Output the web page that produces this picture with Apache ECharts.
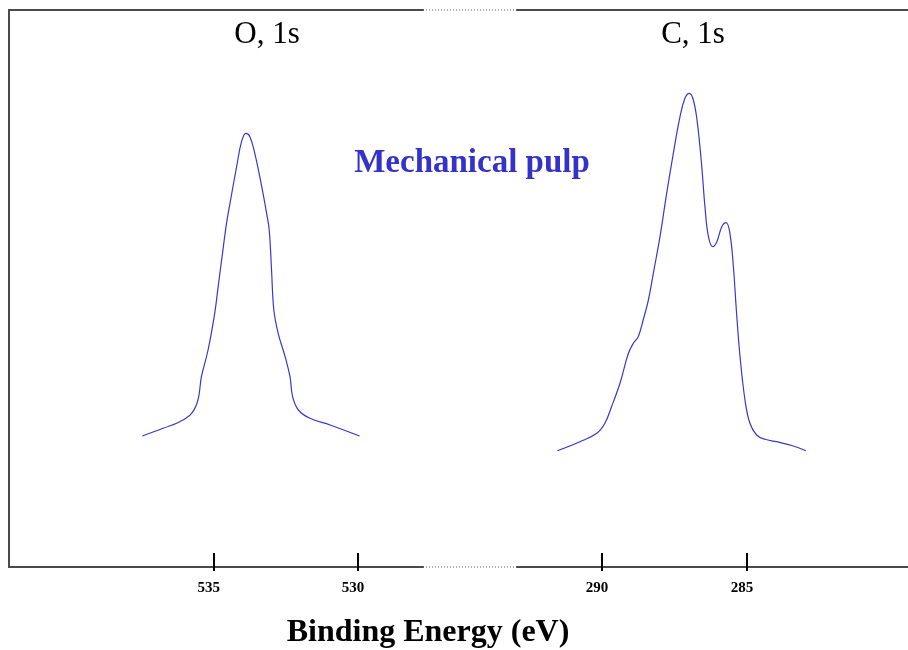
<!DOCTYPE html>
<html>
<head>
<meta charset="utf-8">
<script src="https://cdn.jsdelivr.net/npm/echarts@6/dist/echarts.min.js"></script>
<style>
  html, body { margin: 0; padding: 0; background: #fff; }
  #chart { width: 908px; height: 650px; }
</style>
</head>
<body>
<div id="chart"></div>
<script>
// O 1s spectrum: binding energy (eV) and intensity (arbitrary units)
const oEnergy = [537.48, 536.76, 536.18, 535.77, 535.55, 535.43, 535.20, 534.97, 534.85, 534.70,
                 534.56, 534.44, 534.21, 534.04, 533.89, 533.75, 533.58, 533.34, 533.17, 533.08,
                 533.00, 532.92, 532.77, 532.53, 532.36, 532.27, 532.07, 531.67, 530.97, 529.95];
const oIntensity = [131, 138.7, 145.3, 153.7, 167, 190.3, 217, 253.7, 280.3, 313.7,
                    343.7, 363.7, 400.3, 425.3, 433.7, 430.3, 413.7, 380.3, 353.7, 337,
                    297, 257, 233.7, 210.3, 190.3, 170.3, 157, 148.7, 142, 131];

// C 1s spectrum
const cEnergy = [291.54, 290.76, 290.18, 289.90, 289.67, 289.38, 289.09, 288.92, 288.75, 288.58,
                 288.40, 288.23, 288.00, 287.77, 287.54, 287.31, 287.14, 286.99, 286.85, 286.71,
                 286.56, 286.45, 286.33, 286.18, 286.04, 285.87, 285.72, 285.59, 285.47, 285.36,
                 285.24, 285.07, 284.90, 284.67, 284.38, 283.98, 283.40, 282.97];
const cIntensity = [116.3, 125.3, 133.7, 143.7, 160.3, 183.7, 213.7, 223.7, 230.3, 247,
                    267, 293.7, 330.3, 373.7, 413.7, 450.3, 468.7, 473.7, 467, 443.7,
                    400.3, 360.3, 330.3, 320.3, 325.3, 340.3, 344.3, 333.7, 300.3, 253.7,
                    210.3, 167, 143.7, 132, 127.7, 125.3, 121, 116.3];

const oTicks = [535, 530];
const cTicks = [290, 285];
const oRange = [527.75, 542.1];
const cRange = [279.45, 292.93];

const panelTitles = ['O, 1s', 'C, 1s'];
const sampleName = 'Mechanical pulp';
const axisName = 'Binding Energy (eV)';

const lineColor = '#3838cc';
const frameColor = '#4a4a4a';
const serif = '"Liberation Serif", "Times New Roman", serif';

function pair(xs, ys) { return xs.map((x, i) => [x, ys[i]]); }

function bottomAxes(gridIndex, range, ticks) {
  return [
    {
      type: 'value', gridIndex, position: 'bottom', inverse: true,
      min: range[0], max: range[1],
      axisLine: { show: true, lineStyle: { color: frameColor, width: 2 } },
      axisTick: { show: true, inside: true, length: 14, customValues: ticks,
                  lineStyle: { color: '#000', width: 2 } },
      axisLabel: { show: true, customValues: ticks, margin: 14, padding: [0, 10, 0, 0],
                   fontFamily: serif, fontWeight: 'bold', fontSize: 15, color: '#000' },
      splitLine: { show: false }
    },
    {
      type: 'value', gridIndex, position: 'bottom', inverse: true,
      min: range[0], max: range[1],
      axisLine: { show: false },
      axisTick: { show: true, inside: false, length: 4, customValues: ticks,
                  lineStyle: { color: '#000', width: 2 } },
      axisLabel: { show: false },
      splitLine: { show: false }
    },
    {
      type: 'value', gridIndex, position: 'top', inverse: true,
      min: range[0], max: range[1],
      axisLine: { show: true, lineStyle: { color: frameColor, width: 2 } },
      axisTick: { show: false }, axisLabel: { show: false }, splitLine: { show: false }
    }
  ];
}

const chart = echarts.init(document.getElementById('chart'), null, { renderer: 'canvas' });

chart.setOption({
  animation: false,
  backgroundColor: '#fff',
  grid: [
    { left: 9, top: 10, width: 414, bottom: 83 },
    { left: 517, top: 10, right: 0, bottom: 83 }
  ],
  xAxis: [].concat(bottomAxes(0, oRange, oTicks), bottomAxes(1, cRange, cTicks)),
  yAxis: [
    { type: 'value', gridIndex: 0, min: 0, max: 557,
      axisLine: { show: true, lineStyle: { color: frameColor, width: 2 } },
      axisTick: { show: false }, axisLabel: { show: false }, splitLine: { show: false } },
    { type: 'value', gridIndex: 1, min: 0, max: 557,
      axisLine: { show: false }, axisTick: { show: false },
      axisLabel: { show: false }, splitLine: { show: false } }
  ],
  series: [
    { type: 'line', xAxisIndex: 0, yAxisIndex: 0, data: pair(oEnergy, oIntensity),
      smooth: 0.4, showSymbol: false,
      lineStyle: { color: lineColor, width: 1.2 } },
    { type: 'line', xAxisIndex: 3, yAxisIndex: 1, data: pair(cEnergy, cIntensity),
      smooth: 0.4, showSymbol: false,
      lineStyle: { color: lineColor, width: 1.2 } }
  ],
  graphic: [
    // broken-axis gap in the frame
    { type: 'line', shape: { x1: 423, y1: 10, x2: 517, y2: 10 },
      style: { stroke: '#b0b0b0', lineWidth: 2, lineDash: [1, 2] } },
    { type: 'line', shape: { x1: 423, y1: 567, x2: 517, y2: 567 },
      style: { stroke: '#b0b0b0', lineWidth: 2, lineDash: [1, 2] } },
    { type: 'text', x: 267, y: 35,
      style: { text: panelTitles[0], font: '31px ' + serif, fill: '#000',
               textAlign: 'center', textVerticalAlign: 'middle' } },
    { type: 'text', x: 693, y: 35,
      style: { text: panelTitles[1], font: '31px ' + serif, fill: '#000',
               textAlign: 'center', textVerticalAlign: 'middle' } },
    { type: 'text', x: 472, y: 163,
      style: { text: sampleName, font: 'bold 33px ' + serif, fill: '#3333cc',
               textAlign: 'center', textVerticalAlign: 'middle' } },
    { type: 'text', x: 428, y: 633,
      style: { text: axisName, font: 'bold 32px ' + serif, fill: '#000',
               textAlign: 'center', textVerticalAlign: 'middle' } }
  ]
});
</script>
</body>
</html>
